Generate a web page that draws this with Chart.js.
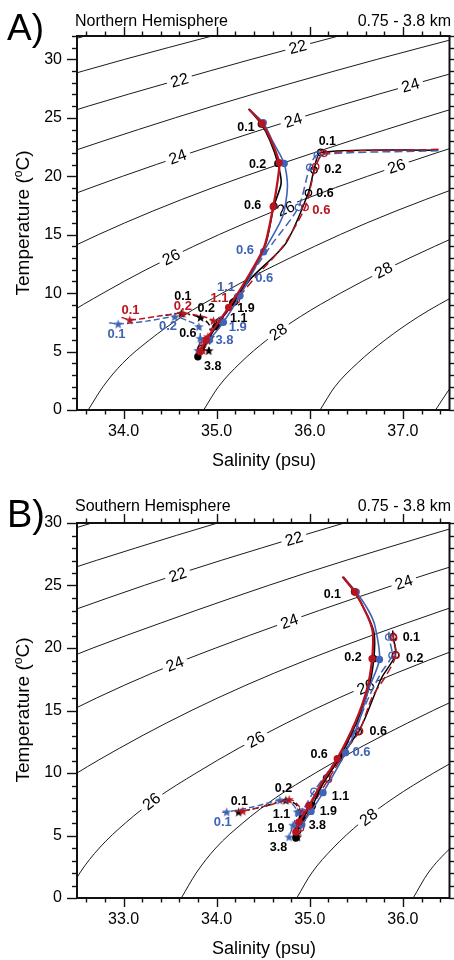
<!DOCTYPE html>
<html><head><meta charset="utf-8">
<script src="https://cdn.jsdelivr.net/npm/chart.js@4.4.0/dist/chart.umd.min.js"></script>
<style>
html,body{margin:0;padding:0;background:#fff;}
#wrap{position:relative;width:454px;height:960px;overflow:hidden;}
canvas{position:absolute;left:0;}
.t{position:absolute;font-family:"Liberation Sans",Arial,Helvetica,sans-serif;color:#000;white-space:nowrap;line-height:1;}
.yt{transform:translate(-50%,-50%) rotate(-90deg);font-size:19px;}
.yt sup{font-size:12px;vertical-align:7px;}
</style></head><body>
<div id="wrap">
<canvas id="cA" width="454" height="480" style="top:0"></canvas>
<canvas id="cB" width="454" height="480" style="top:480px"></canvas>
<div class="t" style="left:7px;top:9px;font-size:37px">A)</div>
<div class="t" style="left:75px;top:12.5px;font-size:16px">Northern Hemisphere</div>
<div class="t" style="right:3px;top:12.5px;font-size:16px">0.75 - 3.8 km</div>
<div class="t" style="left:264px;top:451px;font-size:18px;transform:translateX(-50%)">Salinity (psu)</div>
<div class="t yt" style="left:22px;top:223px">Temperature (<sup>o</sup>C)</div>
<div class="t" style="left:7px;top:495px;font-size:38px">B)</div>
<div class="t" style="left:75px;top:498px;font-size:16px">Southern Hemisphere</div>
<div class="t" style="right:3px;top:498px;font-size:16px">0.75 - 3.8 km</div>
<div class="t" style="left:264px;top:939px;font-size:18px;transform:translateX(-50%)">Salinity (psu)</div>
<div class="t yt" style="left:22px;top:710px">Temperature (<sup>o</sup>C)</div>
</div>
<script>
// ---------- density (sigma) contours, S read along a shared temperature grid ----------
const contourTemps = [0,2,4,6,8,10,12,14,16,18,20,22,24,26,28,30,32];
const sigmaLevels = [20,21,22,23,24,25,26,27,28,29,30];
const sigma20S = [null,null,null,null,null,null,null,null,null,null,null,null,30.17,30.95,31.78,32.66,33.59];
const sigma21S = [null,null,null,null,null,null,null,null,null,null,30.05,30.76,31.50,32.29,33.13,34.01,34.95];
const sigma22S = [null,null,null,null,null,null,null,null,30.12,30.70,31.36,32.08,32.83,33.62,34.48,35.37,36.31];
const sigma23S = [null,null,null,null,null,null,30.39,30.88,31.42,32.01,32.67,33.40,34.16,34.96,35.82,36.72,37.67];
const sigma24S = [null,null,null,null,30.82,31.23,31.68,32.17,32.71,33.31,33.99,34.72,35.49,36.30,37.17,38.07,39.03];
const sigma25S = [31.14,31.28,31.48,31.76,32.09,32.50,32.96,33.46,34.01,34.62,35.30,36.04,36.82,37.63,38.51,null,null];
const sigma26S = [32.38,32.53,32.74,33.02,33.36,33.78,34.24,34.75,35.31,35.93,36.62,37.36,38.15,38.97,null,null,null];
const sigma27S = [33.62,33.78,33.99,34.28,34.63,35.06,35.53,36.05,36.61,37.24,37.93,38.69,null,null,null,null,null];
const sigma28S = [34.86,35.02,35.25,35.54,35.90,36.33,36.81,37.34,37.91,38.54,null,null,null,null,null,null,null];
const sigma29S = [36.11,36.27,36.51,36.81,37.17,37.61,38.09,38.63,null,null,null,null,null,null,null,null,null];
const sigma30S = [37.35,37.52,37.76,38.07,38.44,38.89,null,null,null,null,null,null,null,null,null,null,null];
const sigmaS = {20:sigma20S,21:sigma21S,22:sigma22S,23:sigma23S,24:sigma24S,25:sigma25S,26:sigma26S,27:sigma27S,28:sigma28S,29:sigma29S,30:sigma30S};

// ---------- axes ----------
const nhSRange = [33.5, 37.5], nhTRange = [0, 32];
const shSRange = [32.5, 36.5], shTRange = [0, 30];
const nhSTicks = [34, 35, 36, 37];
const shSTicks = [33, 34, 35, 36];
const tempTicks = [0, 5, 10, 15, 20, 25, 30];

// ---------- Northern Hemisphere traces (S, T, depth km at markers) ----------
const nhBlackSolidS = [35.343,35.479,35.575,35.657,35.692,35.614,35.528,35.350,35.172,34.994,34.798];
const nhBlackSolidT = [25.78,24.46,23.01,21.10,19.39,17.45,14.26,11.40,9.18,7.13,4.56];
const nhBlackSolidD = [null,0.1,null,0.2,null,0.6,null,null,1.1,1.9,3.8];
const nhBlueSolidS = [35.357,35.50,35.60,35.725,35.760,35.707,35.504,35.250,35.072,34.922];
const nhBlueSolidT = [25.66,24.58,23.0,21.10,19.10,16.54,13.54,9.78,7.50,5.99];
const nhBlueSolidD = [null,0.1,null,0.2,null,null,0.6,1.1,1.9,3.8];
const nhRedSolidS = [35.35,35.486,35.582,35.671,35.653,35.607,35.511,35.315,35.129,34.887,34.823];
const nhRedSolidT = [25.72,24.52,23.10,21.16,19.54,17.39,13.97,11.12,8.78,5.99,4.99];
const nhRedSolidD = [null,0.1,null,0.2,null,0.6,null,null,1.1,1.9,3.8];

const nhBlackOpenS = [37.38,36.117,36.045,35.985,35.742,35.368,35.19,35.03,34.833];
const nhBlackOpenT = [22.24,22.04,20.53,18.59,14.26,11.26,9.27,7.56,5.28];
const nhBlackOpenD = [null,0.1,0.2,0.6,null,null,1.1,1.9,3.8];
const nhBlueOpenS = [37.38,36.081,35.999,35.878,35.60,35.35,35.225,35.047,34.869];
const nhBlueOpenT = [22.18,21.81,20.76,17.34,14.26,11.40,9.69,7.70,5.85];
const nhBlueOpenD = [null,0.1,0.2,0.6,null,null,1.1,1.9,3.8];
const nhRedOpenS = [37.382,36.152,36.063,35.949,35.707,35.42,35.21,35.01,34.85];
const nhRedOpenT = [22.30,21.96,20.82,17.34,13.97,11.40,9.41,7.41,5.56];
const nhRedOpenD = [null,0.1,0.2,0.6,null,null,1.1,1.9,3.8];

const nhBlackStarS = [34.45,34.62,34.826,34.92,34.93,34.915];
const nhBlackStarT = [8.1,8.27,7.93,7.3,6.2,5.08];
const nhBlackStarD = [null,0.1,0.2,null,1.1,3.8];
const nhBlueStarS = [33.846,33.942,34.25,34.55,34.70,34.81,34.823,34.80];
const nhBlueStarT = [7.47,7.36,7.6,7.98,7.6,7.13,6.13,5.1];
const nhBlueStarD = [null,0.1,null,0.2,null,0.6,1.1,3.8];
const nhRedStarS = [33.978,34.067,34.35,34.637,34.965,34.905,34.85];
const nhRedStarT = [7.93,7.70,8.0,8.27,7.64,6.27,5.1];
const nhRedStarD = [null,0.1,null,0.2,0.6,1.1,3.8];

// ---------- Southern Hemisphere traces ----------
const shBlackSolidS = [35.35,35.48,35.62,35.69,35.687,35.63,35.50,35.313,35.15,35.028,34.92,34.85];
const shBlackSolidT = [25.7,24.5,22.6,21.2,19.15,16.7,14.0,11.15,9.3,7.41,6.35,4.8];
const shBlackSolidD = [null,0.1,null,null,0.2,null,null,0.6,null,1.1,1.9,3.8];
const shBlueSolidS = [35.36,35.498,35.63,35.698,35.748,35.634,35.527,35.384,35.142,35.013,34.914];
const shBlueSolidT = [25.68,24.48,23.0,21.81,19.09,16.75,14.08,11.63,8.43,6.93,5.87];
const shBlueSolidD = [null,0.1,null,null,0.2,null,null,0.6,1.1,1.9,3.8];
const shRedSolidS = [35.356,35.484,35.616,35.676,35.669,35.616,35.49,35.295,35.134,34.99,34.885,34.85];
const shRedSolidT = [25.68,24.48,22.61,21.28,19.15,16.75,14.08,11.15,9.28,7.36,6.08,5.28];
const shRedSolidD = [null,0.1,null,null,0.2,null,null,0.6,null,1.1,1.9,3.8];

const shBlackOpenS = [35.89,35.895,35.92,35.77,35.60,35.52,35.35,35.18,35.0,34.87];
const shBlackOpenT = [21.4,20.9,19.45,17.6,14.5,13.3,11.5,9.6,7.4,5.4];
const shBlackOpenD = [null,0.1,0.2,null,null,0.6,null,1.1,1.9,3.8];
const shBlueOpenS = [35.85,35.848,35.883,35.76,35.634,35.49,35.36,35.045,34.92,34.867];
const shBlueOpenT = [21.3,20.88,19.42,17.95,16.08,13.55,11.8,8.53,6.88,5.55];
const shBlueOpenD = [null,0.1,0.2,null,null,0.6,null,1.1,1.9,3.8];
const shRedOpenS = [35.90,35.90,35.926,35.81,35.67,35.534,35.40,35.20,35.02,34.90];
const shRedOpenT = [21.28,20.83,19.42,17.68,16.08,13.36,11.95,9.5,7.3,5.6];
const shRedOpenD = [null,0.1,0.2,null,null,0.6,null,1.1,1.9,3.8];

const shBlackStarS = [34.236,34.50,34.743,34.85,34.89,34.88,34.867];
const shBlackStarT = [6.88,7.3,7.82,7.5,6.9,5.9,4.88];
const shBlackStarD = [0.1,null,0.2,null,1.1,1.9,3.8];
const shBlueStarS = [34.06,34.108,34.40,34.679,34.80,34.867,34.82,34.778];
const shBlueStarT = [6.85,6.88,7.3,7.82,7.6,6.88,5.82,4.88];
const shBlueStarD = [null,0.1,null,0.2,null,1.1,1.9,3.8];
const shRedStarS = [34.20,34.28,34.55,34.778,34.84,34.92,34.88,34.86];
const shRedStarT = [6.95,6.96,7.4,7.87,7.7,6.88,6.0,5.0];
const shRedStarD = [null,0.1,null,0.2,null,1.1,1.9,3.8];

// ---------- text annotations ----------
const nhContourLabelLevel = [22,22,24,24,24,26,26,26,28,28];
const nhContourLabelS = [35.87,34.60,37.08,35.82,34.58,36.93,35.74,34.51,36.79,35.66];
const nhContourLabelT = [31.08,28.23,27.8,24.8,21.67,20.87,17.25,13.1,11.98,6.7];
const shContourLabelLevel = [22,22,24,24,24,26,26,26,28];
const shContourLabelS = [34.83,33.58,36.01,34.78,33.55,35.60,34.42,33.30,35.63];
const shContourLabelT = [28.75,25.87,25.28,22.14,18.75,16.9,12.7,7.74,6.48];

const nhDepthText = ['0.1','0.2','0.6','0.1','0.2','0.6','0.6','0.6','0.6','1.1','1.1','1.9','1.1','1.9','3.8','3.8','0.1','0.2','0.2','0.1','0.2','0.1','0.6'];
const nhDepthS = [35.315,35.439,35.386,36.188,36.249,36.163,36.124,35.304,35.511,35.10,35.03,35.315,35.236,35.226,35.083,34.958,34.637,34.637,34.887,34.074,34.477,33.924,34.69];
const nhDepthT = [24.15,21.04,17.48,23.01,20.59,18.53,17.11,13.69,11.26,10.49,9.55,8.70,7.84,7.07,5.99,3.71,9.75,8.90,8.70,8.50,7.13,6.50,6.56];
const nhDepthColor = ['k','k','k','k','k','k','r','b','b','b','r','k','k','b','b','k','k','r','k','r','b','b','k'];
const shDepthText = ['0.1','0.2','0.1','0.2','0.6','0.6','0.6','1.1','1.9','3.8','0.2','1.1','1.9','3.8','0.1','0.1'];
const shDepthS = [35.242,35.463,36.09,36.126,35.734,35.10,35.555,35.33,35.199,35.081,34.717,34.696,34.635,34.664,34.243,34.065];
const shDepthT = [24.29,19.2,20.8,19.15,13.33,11.47,11.68,8.13,6.93,5.81,8.75,6.69,5.55,4.0,7.73,6.03];
const shDepthColor = ['k','k','k','k','k','k','b','k','k','k','k','k','k','k','k','b'];

// ---------- styling ----------
const FONT = '"Liberation Sans", Arial, Helvetica, sans-serif';
const COL = {k:'#000000', r:'#b8141f', b:'#3f63b5'};

function starImg(color){
  const c = document.createElement('canvas'); c.width = 11; c.height = 11;
  const g = c.getContext('2d'); g.beginPath();
  for (let i = 0; i < 10; i++) {
    const r = i % 2 ? 2.1 : 5.0, a = -Math.PI/2 + i*Math.PI/5;
    g.lineTo(5.5 + r*Math.cos(a), 5.9 + r*Math.sin(a));
  }
  g.closePath(); g.fillStyle = color; g.fill(); return c;
}

function contourSets(){
  return sigmaLevels.map(l => ({
    label: 'sigma ' + l, sigma: l,
    data: contourTemps.map((t, i) => ({x: sigmaS[l][i], y: t})).filter(p => p.x != null),
    showLine: true, borderColor: '#000', borderWidth: 0.9, pointRadius: 0,
    cubicInterpolationMode: 'monotone', order: 20
  }));
}

function trace(S, T, D, c, kind, order){
  const color = COL[c];
  const ds = {
    label: kind + c, data: S.map((s, i) => ({x: s, y: T[i]})), showLine: true,
    borderColor: color, backgroundColor: color, tension: 0.25, order: order,
    pointHoverRadius: 0
  };
  if (kind === 'solid') {
    ds.borderWidth = c === 'r' ? 2.3 : 1.6;
    ds.pointRadius = D.map(d => d == null ? 0 : 3.7);
    ds.pointBackgroundColor = color; ds.pointBorderColor = color; ds.pointBorderWidth = 0;
  } else if (kind === 'open') {
    ds.borderWidth = 1.5;
    ds.borderDash = c === 'k' ? [] : [8, 4];
    ds.pointRadius = D.map(d => d == null ? 0 : 3.2);
    ds.pointBackgroundColor = 'rgba(255,255,255,0)'; ds.pointBorderColor = color; ds.pointBorderWidth = 1.3;
  } else {
    ds.borderWidth = 1.4;
    ds.borderDash = c === 'k' ? [6, 3, 2, 3] : [6, 3];
    ds.pointRadius = D.map(d => d == null ? 0 : 3);
    ds.pointStyle = starImg(color);
  }
  return ds;
}

// axis frame, major and minor ticks on all four sides
const frameTicks = {
  id: 'frameTicks',
  afterDraw(chart, args, o){
    const {ctx, chartArea: a, scales: {x, y}} = chart;
    ctx.save(); ctx.strokeStyle = '#111'; ctx.lineCap = 'butt';
    const line = (x1, y1, x2, y2) => { ctx.beginPath(); ctx.moveTo(x1, y1); ctx.lineTo(x2, y2); ctx.stroke(); };
    ctx.lineWidth = 1.4;
    for (let k = Math.ceil(x.min*5 - 1e-6); k <= Math.floor(x.max*5 + 1e-6); k++) {
      const v = k/5, px = Math.round(x.getPixelForValue(v)) + 0.5;
      const major = o.xMajor.some(m => Math.abs(m - v) < 1e-6);
      const L = major ? 9 : 4.5;
      line(px, a.bottom, px, a.bottom + L);
      line(px, a.top, px, a.top - L);
    }
    for (let v = Math.ceil(y.min); v <= y.max + 1e-6; v++) {
      const py = Math.round(y.getPixelForValue(v)) + 0.5;
      const L = o.yMajor.includes(v) ? 10 : 5;
      line(a.left, py, a.left - L, py);
      line(a.right, py, a.right + L, py);
    }
    ctx.lineWidth = 2;
    ctx.strokeRect(a.left, a.top, a.right - a.left, a.bottom - a.top);
    ctx.restore();
  }
};

function segDist(px, py, x1, y1, x2, y2){
  const dx = x2 - x1, dy = y2 - y1, L2 = dx*dx + dy*dy;
  let t = L2 ? ((px - x1)*dx + (py - y1)*dy)/L2 : 0; t = Math.max(0, Math.min(1, t));
  const qx = x1 + t*dx, qy = y1 + t*dy;
  return {d: Math.hypot(px - qx, py - qy), ang: Math.atan2(dy, dx)};
}

// contour labels with a white gap, drawn right after the contour lines
const contourLabels = {
  id: 'contourLabels',
  afterDatasetDraw(chart, args, o){
    if (args.index !== 0) return;
    const {ctx, scales: {x, y}} = chart;
    ctx.save();
    ctx.font = '16px ' + FONT; ctx.textAlign = 'center'; ctx.textBaseline = 'middle';
    o.levels.forEach((lev, i) => {
      const pts = chart.getDatasetMeta(sigmaLevels.indexOf(lev)).data;
      const px = x.getPixelForValue(o.S[i]), py = y.getPixelForValue(o.T[i]);
      let best = null;
      for (let j = 0; j < pts.length - 1; j++) {
        const r = segDist(px, py, pts[j].x, pts[j].y, pts[j+1].x, pts[j+1].y);
        if (!best || r.d < best.d) best = r;
      }
      let ang = best.ang; if (ang > Math.PI/2) ang -= Math.PI; if (ang < -Math.PI/2) ang += Math.PI;
      const txt = String(lev), w = ctx.measureText(txt).width;
      ctx.save(); ctx.translate(px, py); ctx.rotate(ang);
      ctx.fillStyle = '#fff'; ctx.fillRect(-w/2 - 4, -8, w + 8, 16);
      ctx.fillStyle = '#000'; ctx.fillText(txt, 0, 1);
      ctx.restore();
    });
    ctx.restore();
  }
};

const depthLabels = {
  id: 'depthLabels',
  afterDatasetsDraw(chart, args, o){
    const {ctx, scales: {x, y}} = chart;
    ctx.save(); ctx.textAlign = 'center'; ctx.textBaseline = 'middle';
    o.text.forEach((t, i) => {
      const c = o.color[i];
      ctx.font = (c === 'k' ? 'bold 12.5px ' : 'bold 13px ') + FONT;
      ctx.fillStyle = COL[c];
      ctx.fillText(t, x.getPixelForValue(o.S[i]), y.getPixelForValue(o.T[i]));
    });
    ctx.restore();
  }
};

function makeChart(id, cfg){
  const datasets = contourSets().concat(cfg.traces);
  return new Chart(document.getElementById(id), {
    type: 'scatter',
    data: {datasets},
    plugins: [frameTicks, contourLabels, depthLabels],
    options: {
      responsive: false, animation: false, devicePixelRatio: 1,
      layout: {padding: {top: cfg.top, right: 3, left: 0, bottom: 0}},
      scales: {
        x: {
          type: 'linear', min: cfg.sRange[0], max: cfg.sRange[1],
          afterBuildTicks: s => { s.ticks = cfg.sTicks.map(v => ({value: v})); },
          afterFit: s => { s.height = cfg.xh; },
          ticks: {callback: v => Number(v).toFixed(1), font: {family: FONT, size: 16}, color: '#000', padding: 12, maxRotation: 0, autoSkip: false},
          grid: {display: false, drawTicks: false}, border: {display: false}
        },
        y: {
          type: 'linear', min: cfg.tRange[0], max: cfg.tRange[1],
          afterBuildTicks: s => { s.ticks = tempTicks.map(v => ({value: v})); },
          afterFit: s => { s.width = 77; },
          ticks: {font: {family: FONT, size: 16}, color: '#000', padding: 15, autoSkip: false},
          grid: {display: false, drawTicks: false}, border: {display: false}
        }
      },
      plugins: {
        legend: {display: false}, tooltip: {enabled: false},
        frameTicks: {xMajor: cfg.sTicks, yMajor: tempTicks},
        contourLabels: cfg.contourLabels,
        depthLabels: cfg.depthLabels
      }
    }
  });
}

makeChart('cA', {
  top: 36, xh: 70, sRange: nhSRange, tRange: nhTRange, sTicks: nhSTicks,
  contourLabels: {levels: nhContourLabelLevel, S: nhContourLabelS, T: nhContourLabelT},
  depthLabels: {text: nhDepthText, S: nhDepthS, T: nhDepthT, color: nhDepthColor},
  traces: [
    trace(nhRedSolidS, nhRedSolidT, nhRedSolidD, 'r', 'solid', 1),
    trace(nhBlueSolidS, nhBlueSolidT, nhBlueSolidD, 'b', 'solid', 2),
    trace(nhBlackSolidS, nhBlackSolidT, nhBlackSolidD, 'k', 'solid', 3),
    trace(nhRedOpenS, nhRedOpenT, nhRedOpenD, 'r', 'open', 4),
    trace(nhBlueOpenS, nhBlueOpenT, nhBlueOpenD, 'b', 'open', 5),
    trace(nhBlackOpenS, nhBlackOpenT, nhBlackOpenD, 'k', 'open', 6),
    trace(nhRedStarS, nhRedStarT, nhRedStarD, 'r', 'star', 7),
    trace(nhBlueStarS, nhBlueStarT, nhBlueStarD, 'b', 'star', 8),
    trace(nhBlackStarS, nhBlackStarT, nhBlackStarD, 'k', 'star', 9)
  ]
});

makeChart('cB', {
  top: 43, xh: 62, sRange: shSRange, tRange: shTRange, sTicks: shSTicks,
  contourLabels: {levels: shContourLabelLevel, S: shContourLabelS, T: shContourLabelT},
  depthLabels: {text: shDepthText, S: shDepthS, T: shDepthT, color: shDepthColor},
  traces: [
    trace(shRedSolidS, shRedSolidT, shRedSolidD, 'r', 'solid', 1),
    trace(shBlueSolidS, shBlueSolidT, shBlueSolidD, 'b', 'solid', 2),
    trace(shBlackSolidS, shBlackSolidT, shBlackSolidD, 'k', 'solid', 3),
    trace(shRedOpenS, shRedOpenT, shRedOpenD, 'r', 'open', 4),
    trace(shBlueOpenS, shBlueOpenT, shBlueOpenD, 'b', 'open', 5),
    trace(shBlackOpenS, shBlackOpenT, shBlackOpenD, 'k', 'open', 6),
    trace(shRedStarS, shRedStarT, shRedStarD, 'r', 'star', 7),
    trace(shBlueStarS, shBlueStarT, shBlueStarD, 'b', 'star', 8),
    trace(shBlackStarS, shBlackStarT, shBlackStarD, 'k', 'star', 9)
  ]
});
</script>
</body></html>
